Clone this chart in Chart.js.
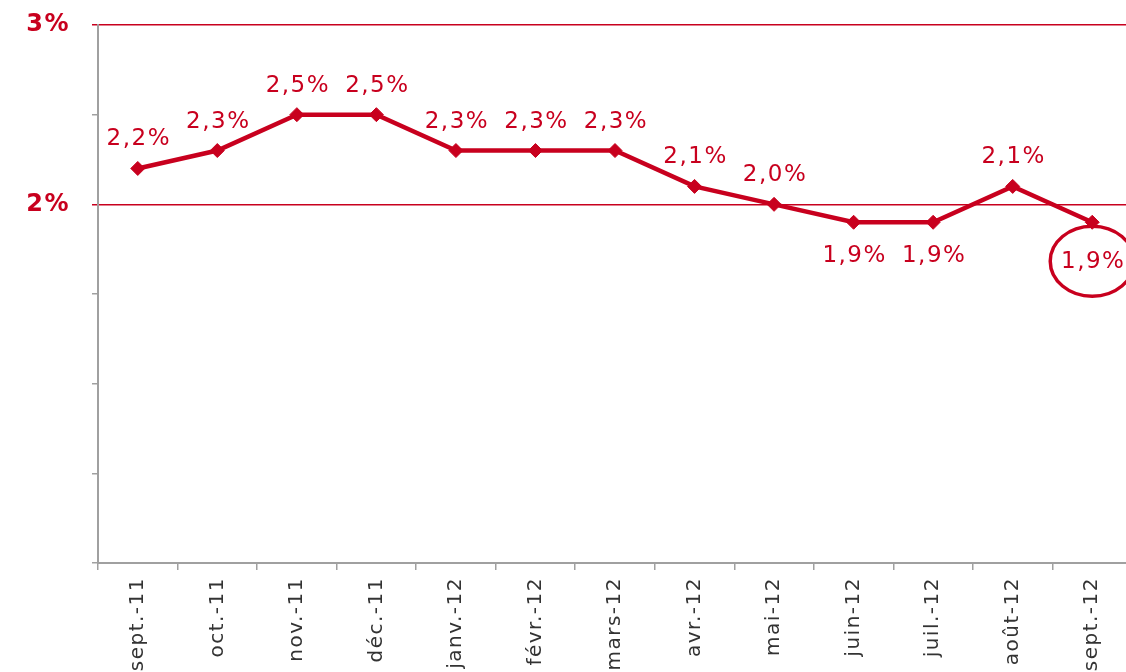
<!DOCTYPE html>
<html>
<head>
<meta charset="utf-8">
<script src="https://cdn.jsdelivr.net/npm/chart.js@4"></script>
<style>
  html, body { margin: 0; padding: 0; overflow: hidden; background: #fff; }
  #wrap { position: absolute; left: 0; top: 0; width: 1140px; height: 720px; }
</style>
</head>
<body>
<div id="wrap"><canvas id="c" width="1140" height="720"></canvas></div>
<script>
const categories = ['sept.-11','oct.-11','nov.-11','déc.-11','janv.-12','févr.-12','mars-12','avr.-12','mai-12','juin-12','juil.-12','août-12','sept.-12'];
const values = [2.2, 2.3, 2.5, 2.5, 2.3, 2.3, 2.3, 2.1, 2.0, 1.9, 1.9, 2.1, 1.9];
const yTickLabels = { 3: '3%', 2: '2%' };
const highlightIndex = 12;

const RED = '#c8001e';
const GRAY = '#a0a0a0';

const valueLabels = {
  id: 'valueLabels',
  afterDatasetsDraw(chart) {
    const ctx = chart.ctx;
    const meta = chart.getDatasetMeta(0);
    ctx.save();
    ctx.letterSpacing = '1.5px';
    ctx.font = '23px "DejaVu Sans"';
    ctx.fillStyle = RED;
    ctx.textAlign = 'center';
    ctx.textBaseline = 'middle';
    meta.data.forEach((pt, i) => {
      const v = values[i];
      const txt = v.toFixed(1).replace('.', ',') + '%';
      let dy = v < 2 ? 34 : -29;
      if (i === highlightIndex) dy = 40;
      ctx.fillText(txt, pt.x + 1, pt.y + dy);
    });
    const hp = meta.data[highlightIndex];
    ctx.beginPath();
    ctx.ellipse(hp.x, hp.y + 39, 42, 35, 0, 0, Math.PI * 2);
    ctx.strokeStyle = RED;
    ctx.lineWidth = 3.5;
    ctx.stroke();
    ctx.restore();
  }
};

const spacing = {
  id: 'spacing',
  beforeDraw(chart) { chart.ctx.letterSpacing = '1.5px'; }
};

new Chart(document.getElementById('c'), {
  type: 'line',
  data: {
    labels: categories,
    datasets: [{
      data: values,
      borderColor: RED,
      backgroundColor: RED,
      borderWidth: 4.5,
      pointStyle: 'rectRot',
      pointRadius: 7,
      pointBorderWidth: 1,
      pointBorderColor: RED,
      pointBackgroundColor: RED,
      tension: 0,
      fill: false
    }]
  },
  options: {
    responsive: false,
    animation: false,
    devicePixelRatio: 1,
    layout: { padding: { top: 25, right: 6, left: 0, bottom: 0 } },
    plugins: { legend: { display: false }, tooltip: { enabled: false } },
    scales: {
      x: {
        offset: true,
        grid: {
          offset: true,
          drawOnChartArea: false,
          color: GRAY,
          tickColor: GRAY,
          tickLength: 7,
          lineWidth: 1.5
        },
        border: { color: GRAY, width: 2 },
        ticks: {
          minRotation: 90,
          maxRotation: 90,
          autoSkip: false,
          padding: 7,
          color: '#333',
          font: { family: '"DejaVu Sans"', size: 20 }
        },
        afterFit(scale) { scale.height = 720 - 563; scale.paddingLeft = 0; scale.paddingRight = 0; }
      },
      y: {
        min: 0,
        max: 3,
        ticks: {
          stepSize: 0.5,
          color: RED,
          padding: 22,
          font: { family: '"DejaVu Sans"', size: 24, weight: 'bold' },
          callback: (v) => yTickLabels[v] || ''
        },
        grid: {
          color: (c) => (c.tick && yTickLabels[c.tick.value]) ? RED : 'rgba(0,0,0,0)',
          tickColor: (c) => (c.tick && yTickLabels[c.tick.value]) ? RED : GRAY,
          tickLength: 6,
          lineWidth: 1.5
        },
        border: { color: GRAY, width: 2 },
        afterFit(scale) { scale.width = 98; scale.paddingTop = 0; scale.paddingBottom = 0; }
      }
    }
  },
  plugins: [spacing, valueLabels]
});
</script>
</body>
</html>
